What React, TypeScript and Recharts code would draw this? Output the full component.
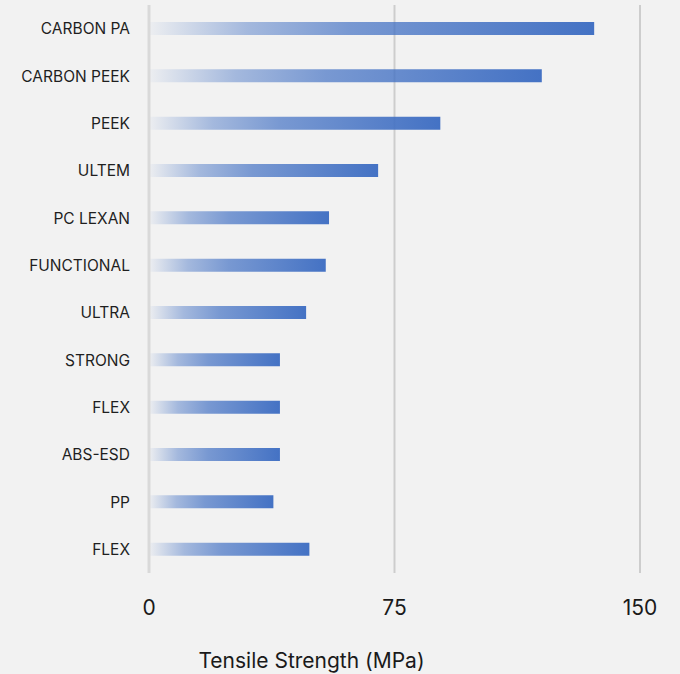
import { BarChart, Bar, XAxis, YAxis, CartesianGrid } from 'recharts';

const MATERIALS = [
  'CARBON PA', 'CARBON PEEK', 'PEEK', 'ULTEM', 'PC LEXAN', 'FUNCTIONAL',
  'ULTRA', 'STRONG', 'FLEX', 'ABS-ESD', 'PP', 'FLEX',
];
const TENSILE = [136, 120, 89, 70, 55, 54, 48, 40, 40, 40, 38, 49];
const X_TICKS = [0, 75, 150];

const data = MATERIALS.map((name, i) => ({ id: `m${i}`, name, value: TENSILE[i] }));

const FONT = 'Inter, "Open Sans", sans-serif';

// centered a bit left of the plot, like the original
const AxisTitle = ({ viewBox }: any) => {
  const cx = viewBox.x + viewBox.width / 2 - 83;
  return (
    <text x={cx} y={viewBox.y + viewBox.height - 6} textAnchor="middle"
      fontFamily={FONT} fontSize={21} fill="#1a1a1a">
      Tensile Strength (MPa)
    </text>
  );
};

const YTick = ({ x, y, payload, index }: any) => (
  <text x={x} y={y} dy="0.36em" textAnchor="end" fontFamily={FONT} fontSize={15.5} fill="#1f1f1f">
    {MATERIALS[index] ?? payload.value}
  </text>
);

export default function App() {
  return (
    <div style={{ width: 680, height: 674, background: '#f2f2f2' }}>
      <style>{'body{margin:0}'}</style>
      <BarChart
        width={680}
        height={674}
        data={data}
        layout="vertical"
        margin={{ top: 5, right: 40, left: 0, bottom: 0 }}
        barCategoryGap="36%"
      >
        <defs>
          <linearGradient id="barFade" x1="0" y1="0" x2="1" y2="0">
            <stop offset="0%" stopColor="#4472c4" stopOpacity={0.03} />
            <stop offset="22%" stopColor="#4472c4" stopOpacity={0.45} />
            <stop offset="45%" stopColor="#4472c4" stopOpacity={0.7} />
            <stop offset="100%" stopColor="#4472c4" stopOpacity={1} />
          </linearGradient>
        </defs>
        <CartesianGrid horizontal={false} vertical stroke="#cdcdcd" strokeWidth={2} />
        <XAxis
          type="number"
          domain={[0, 150]}
          ticks={X_TICKS}
          axisLine={false}
          tickLine={false}
          tickSize={0}
          tickMargin={27}
          height={101}
          tick={{ fontFamily: FONT, fontSize: 21, fill: '#1a1a1a' }}
          label={<AxisTitle />}
        />
        <YAxis
          type="category"
          dataKey="id"
          width={149}
          axisLine={{ stroke: '#d9d9d9', strokeWidth: 3 }}
          tickLine={false}
          tickSize={0}
          tickMargin={19}
          tick={<YTick />}
          interval={0}
        />
        <Bar dataKey="value" fill="url(#barFade)" barSize={13} isAnimationActive={false} />
      </BarChart>
    </div>
  );
}
